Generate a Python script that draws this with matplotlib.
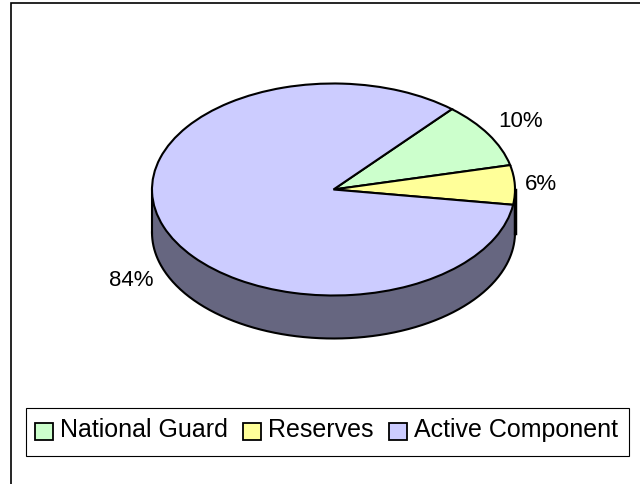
import numpy as np
import matplotlib
matplotlib.use("Agg")
import matplotlib.pyplot as plt
from matplotlib.patches import Patch, Rectangle
from matplotlib.legend_handler import HandlerPatch

plt.rcParams['font.family'] = ['Liberation Sans', 'DejaVu Sans']

categories = ["National Guard", "Reserves", "Active Component"]
values = [10, 6, 84]
pct_labels = ["10%", "6%", "84%"]
colors = ["#CCFFCC", "#FFFF99", "#CCCCFF"]
side_color = "#666680"

W, H = 640, 485
fig = plt.figure(figsize=(W/100, H/100), dpi=100, facecolor="white")

# outer chart frame (top and left visible, right at the image edge)
fig.add_artist(Rectangle((11/W, -0.01), 1.0, 1.01 - 4/H, transform=fig.transFigure,
                         fill=False, edgecolor="black", linewidth=1.2))

# pie axes: an ellipse of radii 181.5 x 106 px centred at (333.5, 190.5)
cx, cy, rx, ry = 333.5, 190.5, 181.5, 106
ax = fig.add_axes([(cx-1.25*rx)/W, 1-(cy+1.25*ry)/H, 2.5*rx/W, 2.5*ry/H])
wedges, _ = ax.pie(values, colors=colors, startangle=49.3, counterclock=False,
                   radius=1.0, wedgeprops=dict(edgecolor="black", linewidth=1.5))
ax.set_aspect("auto")
ax.set_xlim(-1.25, 1.25)
ax.set_ylim(-1.25, 1.25)

# cylinder side below the top face
depth = 43/ry
t = np.linspace(np.pi, 2*np.pi, 300)
xs, ys = np.cos(t), np.sin(t)
ax.fill_between(xs, ys-depth, ys, facecolor=side_color, edgecolor="none",
                zorder=0.5, clip_on=False)
ax.plot(xs, ys-depth, color="black", lw=1.5, zorder=0.6, clip_on=False)
ax.plot([-1, -1], [0, -depth], color="black", lw=1.5, zorder=0.6, clip_on=False)
ax.plot([1, 1], [0, -depth], color="black", lw=2.5, zorder=0.6, clip_on=False)

# percentage labels
for s, (px, py) in zip(pct_labels, [(521, 121.5), (541, 184.5), (131, 280.5)]):
    fig.text(px/W, 1-py/H, s, ha="center", va="center", fontsize=16, color="black")

# legend frame and entries
fig.add_artist(Rectangle((26/W, 1-457/H), 603/W, 48/H, transform=fig.transFigure,
                         facecolor="white", edgecolor="black", linewidth=0.8))

def swatch(legend, orig_handle, xdescent, ydescent, width, height, fontsize):
    # swatch sits lower than the text: 4 px under the baseline, 17 px tall
    return Rectangle((-xdescent, -2.9), width, 12.2)

handles = [Patch(facecolor=c, edgecolor="black", linewidth=1.3) for c in colors]
leg = fig.legend(handles, categories, ncol=3, loc="center left",
                 bbox_to_anchor=(35/W, 1-430/H), fontsize=18, frameon=False,
                 handlelength=0.72, handleheight=0.75, handletextpad=0.28,
                 columnspacing=0.62, borderpad=0, borderaxespad=0,
                 handler_map={Patch: HandlerPatch(patch_func=swatch)})
leg.set_zorder(5)

fig.savefig("out.png", dpi=100, facecolor="white")
